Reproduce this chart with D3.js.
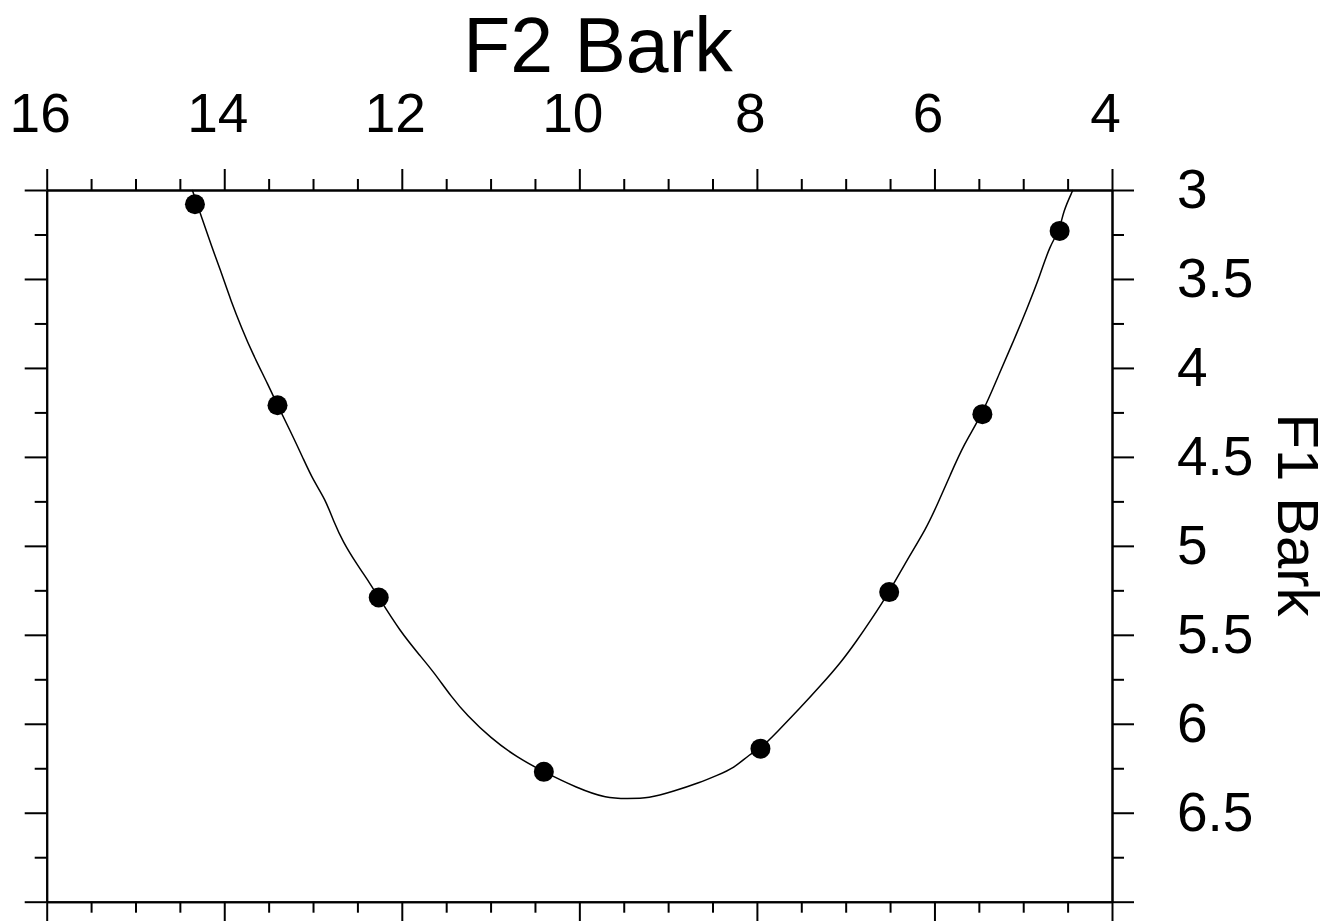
<!DOCTYPE html>
<html>
<head>
<meta charset="utf-8">
<script src="https://cdn.jsdelivr.net/npm/d3@7"></script>
<style>
  html, body { margin: 0; padding: 0; background: #fff; }
  svg { display: block; }
  text { font-family: "Liberation Sans", Arial, sans-serif; fill: #000; }
</style>
</head>
<body>
<svg id="chart" width="1328" height="921"></svg>
<script>
// F2 (horizontal, reversed) and F1 (vertical, downwards) in Bark units
const f2Labels = [16, 14, 12, 10, 8, 6, 4];
const f1Labels = [3, 3.5, 4, 4.5, 5, 5.5, 6, 6.5];

// Measured vowel points
const vowelF2 = [14.33, 13.40, 12.26, 10.40, 7.96, 6.51, 5.46, 4.59];
const vowelF1 = [3.08, 4.21, 5.29, 6.27, 6.14, 5.26, 4.26, 3.23];

// Fitted vowel-space curve
const fitF2 = [14.36, 14.25, 14.14, 14.05, 13.92, 13.80, 13.69, 13.50, 13.40, 13.26,
               13.11, 13.00, 12.86, 12.77, 12.66, 12.51, 12.36, 12.26, 12.02, 11.79,
               11.64, 11.44, 11.27, 11.00, 10.70, 10.40, 10.03, 9.69, 9.46, 9.22,
               8.94, 8.64, 8.45, 8.26, 8.08, 7.96, 7.78, 7.51, 7.29, 7.06,
               6.87, 6.72, 6.51, 6.31, 6.09, 5.97, 5.82, 5.67, 5.46, 5.26,
               5.11, 4.96, 4.81, 4.70, 4.59, 4.55, 4.44];
const fitF1 = [3.00, 3.16, 3.32, 3.44, 3.63, 3.78, 3.91, 4.10, 4.21, 4.35,
               4.51, 4.63, 4.74, 4.86, 4.98, 5.10, 5.21, 5.29, 5.48, 5.62,
               5.71, 5.85, 5.95, 6.08, 6.19, 6.27, 6.36, 6.42, 6.42, 6.42,
               6.38, 6.33, 6.29, 6.25, 6.17, 6.14, 6.05, 5.91, 5.79, 5.66,
               5.53, 5.42, 5.26, 5.08, 4.90, 4.77, 4.60, 4.43, 4.26, 4.02,
               3.85, 3.67, 3.48, 3.31, 3.23, 3.12, 3.00];

const svg = d3.select("#chart");
const plotLeft = 46.7, plotRight = 1112, plotTop = 190, plotBottom = 901.7;

const x = d3.scaleLinear().domain([16, 4]).range([plotLeft, plotRight]);
const y = d3.scaleLinear().domain([3, 7]).range([plotTop, plotBottom]);

const f2Major = d3.range(16, 3.99, -2);
const f2Minor = d3.range(16, 3.99, -0.5).filter(v => v % 2 !== 0);
const f1Major = d3.range(3, 7.01, 0.5);
const f1Minor = d3.range(3.25, 7, 0.5);

function styleAxis(g) {
  g.select(".domain").attr("stroke", "#000").attr("stroke-width", 2);
  g.selectAll(".tick line").attr("stroke", "#000").attr("stroke-width", 2);
}

// Top axis with labels
const topMajor = svg.append("g").attr("transform", `translate(0,${plotTop})`)
  .call(d3.axisTop(x).tickValues(f2Labels).tickSize(21).tickSizeOuter(0)
    .tickPadding(37).tickFormat(d3.format("d")));
topMajor.selectAll(".tick text").attr("font-size", 55).attr("dx", -7)
  .attr("font-family", "'Liberation Sans', Arial, sans-serif").attr("fill", "#000");
styleAxis(topMajor);
const topMinor = svg.append("g").attr("transform", `translate(0,${plotTop})`)
  .call(d3.axisTop(x).tickValues(f2Minor).tickSize(11).tickSizeOuter(0).tickFormat(""));
styleAxis(topMinor);

// Bottom axis, ticks only
const botMajor = svg.append("g").attr("transform", `translate(0,${plotBottom})`)
  .call(d3.axisBottom(x).tickValues(f2Major).tickSize(21).tickSizeOuter(0).tickFormat(""));
styleAxis(botMajor);
const botMinor = svg.append("g").attr("transform", `translate(0,${plotBottom})`)
  .call(d3.axisBottom(x).tickValues(f2Minor).tickSize(11).tickSizeOuter(0).tickFormat(""));
styleAxis(botMinor);

// Right axis with labels
const rightMajor = svg.append("g").attr("transform", `translate(${plotRight},0)`)
  .call(d3.axisRight(y).tickValues(f1Major).tickSize(22).tickSizeOuter(0)
    .tickPadding(43).tickFormat(d => f1Labels.includes(d) ? String(d) : ""));
rightMajor.selectAll(".tick text").attr("font-size", 55)
  .attr("font-family", "'Liberation Sans', Arial, sans-serif").attr("fill", "#000");
styleAxis(rightMajor);
const rightMinor = svg.append("g").attr("transform", `translate(${plotRight},0)`)
  .call(d3.axisRight(y).tickValues(f1Minor).tickSize(12).tickSizeOuter(0).tickFormat(""));
styleAxis(rightMinor);

// Left axis, ticks only
const leftMajor = svg.append("g").attr("transform", `translate(${plotLeft},0)`)
  .call(d3.axisLeft(y).tickValues(f1Major).tickSize(22).tickSizeOuter(0).tickFormat(""));
styleAxis(leftMajor);
const leftMinor = svg.append("g").attr("transform", `translate(${plotLeft},0)`)
  .call(d3.axisLeft(y).tickValues(f1Minor).tickSize(12).tickSizeOuter(0).tickFormat(""));
styleAxis(leftMinor);

// Axis titles
svg.append("text")
  .attr("x", 598).attr("y", 72)
  .attr("text-anchor", "middle")
  .attr("font-size", 77)
  .text("F2 Bark");

svg.append("text")
  .attr("transform", `translate(1278,515) rotate(90)`)
  .attr("text-anchor", "middle")
  .attr("font-size", 58)
  .text("F1 Bark");

// Fitted curve, smoothed through the traced points
const fitData = fitF2.map((v, i) => [v, fitF1[i]]);
svg.append("path")
  .datum(fitData)
  .attr("fill", "none")
  .attr("stroke", "#000")
  .attr("stroke-width", 1.5)
  .attr("d", d3.line().x(d => x(d[0])).y(d => y(d[1])).curve(d3.curveBasis));

// Vowel markers
svg.append("g").selectAll("circle")
  .data(vowelF2.map((v, i) => [v, vowelF1[i]]))
  .join("circle")
  .attr("cx", d => x(d[0]))
  .attr("cy", d => y(d[1]))
  .attr("r", 10)
  .attr("fill", "#000");
</script>
</body>
</html>
